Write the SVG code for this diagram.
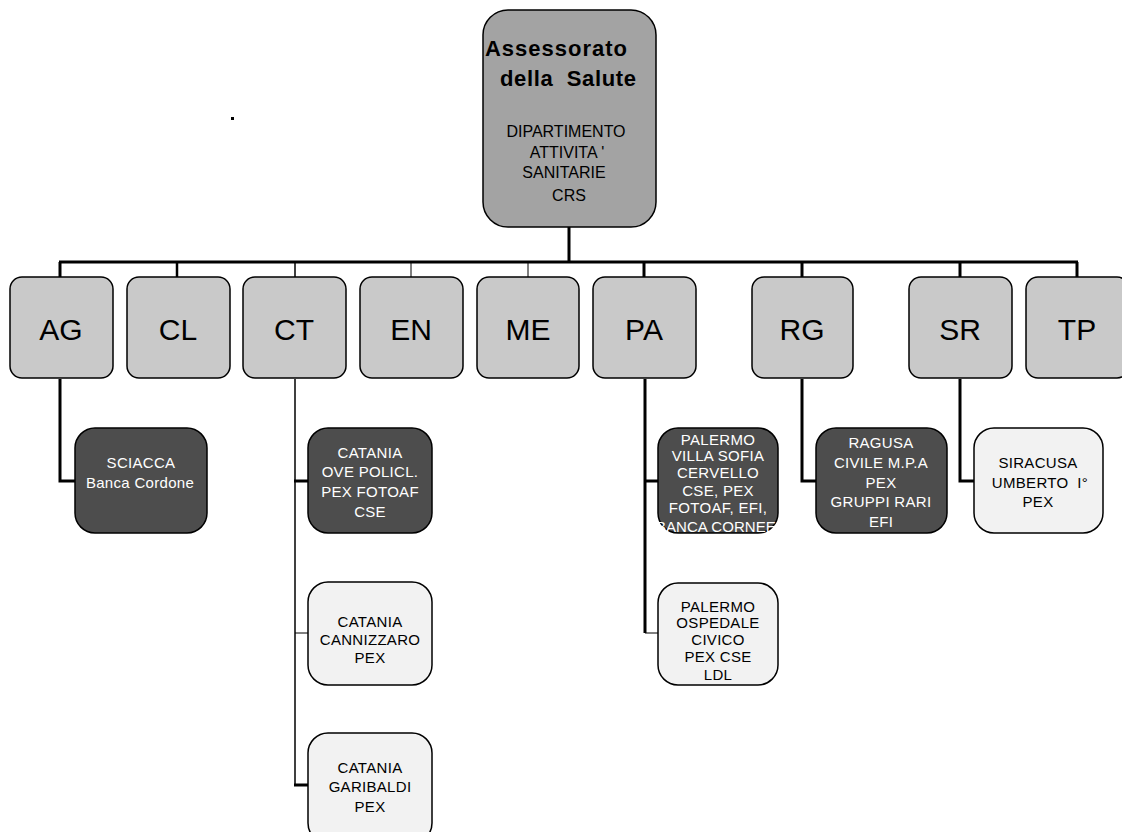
<svg xmlns="http://www.w3.org/2000/svg" width="1122" height="832" viewBox="0 0 1122 832">
<style>
text{font-family:"Liberation Sans",Arial,sans-serif;text-anchor:middle}
.top{fill:#a3a3a3;stroke:#000;stroke-width:1.5}
.mid{fill:#c9c9c9;stroke:#000;stroke-width:1.5}
.dark{fill:#4d4d4d;stroke:#000;stroke-width:1.5}
.light{fill:#f2f2f2;stroke:#000;stroke-width:1.5}
.mt{font-size:30px;fill:#000}
.wt{font-size:15px;fill:#fff;letter-spacing:0.3px}
.bt{font-size:15px;fill:#000;letter-spacing:0.3px}
.ht{font-size:16px;fill:#000}
.c{fill:none;stroke:#000}
</style>
<rect width="1122" height="832" fill="#fff"/>
<g id="connectors">
<path class="c" stroke-width="3" d="M569 227V262M59 262H1078"/>
<path class="c" stroke-width="3" d="M60 262V277"/>
<path class="c" stroke-width="2.5" d="M177 262V277"/>
<path class="c" stroke-width="1.5" d="M295 262V277"/>
<path class="c" stroke-width="1" d="M411 262V277"/>
<path class="c" stroke-width="1" d="M528 262V277"/>
<path class="c" stroke-width="3" d="M644 262V277"/>
<path class="c" stroke-width="3" d="M802 262V277"/>
<path class="c" stroke-width="3" d="M960 262V277"/>
<path class="c" stroke-width="3" d="M1077 262V277"/>
<path class="c" stroke-width="3" d="M60 379V481H75"/>
<path class="c" stroke-width="1.5" d="M295 379V785"/>
<path class="c" stroke-width="3" d="M294 481H308M294 785H308"/>
<path class="c" stroke-width="1" d="M295 633H308"/>
<path class="c" stroke-width="3" d="M645 379V633M644 481H658"/>
<path class="c" stroke-width="1" d="M645 633H658"/>
<path class="c" stroke-width="3" d="M802 379V481H816"/>
<path class="c" stroke-width="3" d="M960 379V481H974"/>
</g>
<rect x="231" y="117" width="3" height="3" fill="#000"/>
<g id="assessorato">
<rect class="top" x="483" y="10" width="173" height="217" rx="25"/>
<text x="556" y="56" font-size="22" font-weight="bold" textLength="142">Assessorato</text>
<text x="568" y="86" font-size="22" font-weight="bold" textLength="136" xml:space="preserve">della  Salute</text>
<text class="ht" x="566" y="137">DIPARTIMENTO</text>
<text class="ht" x="567" y="158" xml:space="preserve">ATTIVITA '</text>
<text class="ht" x="564" y="178">SANITARIE</text>
<text class="ht" x="569" y="201">CRS</text>
</g>
<g id="AG"><rect class="mid" x="10" y="277" width="103" height="101" rx="12"/><text class="mt" x="61" y="340">AG</text></g>
<g id="CL"><rect class="mid" x="127" y="277" width="103" height="101" rx="12"/><text class="mt" x="178" y="340">CL</text></g>
<g id="CT"><rect class="mid" x="243" y="277" width="103" height="101" rx="12"/><text class="mt" x="294" y="340">CT</text></g>
<g id="EN"><rect class="mid" x="360" y="277" width="103" height="101" rx="12"/><text class="mt" x="411" y="340">EN</text></g>
<g id="ME"><rect class="mid" x="477" y="277" width="102" height="101" rx="12"/><text class="mt" x="528" y="340">ME</text></g>
<g id="PA"><rect class="mid" x="593" y="277" width="103" height="101" rx="12"/><text class="mt" x="644" y="340">PA</text></g>
<g id="RG"><rect class="mid" x="752" y="277" width="101" height="101" rx="12"/><text class="mt" x="802" y="340">RG</text></g>
<g id="SR"><rect class="mid" x="909" y="277" width="103" height="101" rx="12"/><text class="mt" x="960" y="340">SR</text></g>
<g id="TP"><rect class="mid" x="1026" y="277" width="103" height="101" rx="12"/><text class="mt" x="1077" y="340">TP</text></g>
<g id="sciacca"><rect class="dark" x="75" y="428" width="132" height="105" rx="20"/>
<text class="wt" x="141" y="468">SCIACCA</text><text class="wt" x="140" y="488" letter-spacing="0">Banca Cordone</text></g>
<g id="catania-ove"><rect class="dark" x="308" y="428" width="124" height="105" rx="20"/>
<text class="wt" x="370" y="458">CATANIA</text><text class="wt" x="370" y="477">OVE POLICL.</text><text class="wt" x="370" y="497">PEX FOTOAF</text><text class="wt" x="370" y="517">CSE</text></g>
<g id="catania-cannizzaro"><rect class="light" x="308" y="582" width="124" height="103" rx="20"/>
<text class="bt" x="370" y="627">CATANIA</text><text class="bt" x="370" y="645">CANNIZZARO</text><text class="bt" x="370" y="663">PEX</text></g>
<g id="catania-garibaldi"><rect class="light" x="308" y="733" width="124" height="110" rx="20"/>
<text class="bt" x="370" y="773">CATANIA</text><text class="bt" x="370" y="792">GARIBALDI</text><text class="bt" x="370" y="812">PEX</text></g>
<g id="palermo-villa"><rect class="dark" x="658" y="428" width="120" height="105" rx="20"/>
<text class="wt" x="718" y="445" font-size="14">PALERMO</text><text class="wt" x="718" y="461" font-size="14">VILLA SOFIA</text><text class="wt" x="718" y="478" font-size="14">CERVELLO</text><text class="wt" x="718" y="496" font-size="14">CSE, PEX</text><text class="wt" x="718" y="513" font-size="14">FOTOAF, EFI,</text><text class="wt" x="716" y="532" font-size="14" textLength="120">BANCA CORNEE</text></g>
<g id="palermo-civico"><rect class="light" x="658" y="583" width="120" height="102" rx="20"/>
<text class="bt" x="718" y="612">PALERMO</text><text class="bt" x="718" y="628">OSPEDALE</text><text class="bt" x="718" y="645">CIVICO</text><text class="bt" x="718" y="662">PEX CSE</text><text class="bt" x="718" y="680">LDL</text></g>
<g id="ragusa"><rect class="dark" x="816" y="428" width="131" height="105" rx="20"/>
<text class="wt" x="881" y="448">RAGUSA</text><text class="wt" x="881" y="468">CIVILE M.P.A</text><text class="wt" x="881" y="488">PEX</text><text class="wt" x="881" y="507">GRUPPI RARI</text><text class="wt" x="881" y="527">EFI</text></g>
<g id="siracusa"><rect class="light" x="974" y="428" width="129" height="105" rx="20"/>
<text class="bt" x="1038" y="468">SIRACUSA</text><text class="bt" x="1040" y="488" xml:space="preserve">UMBERTO  I°</text><text class="bt" x="1038" y="507">PEX</text></g>
</svg>
